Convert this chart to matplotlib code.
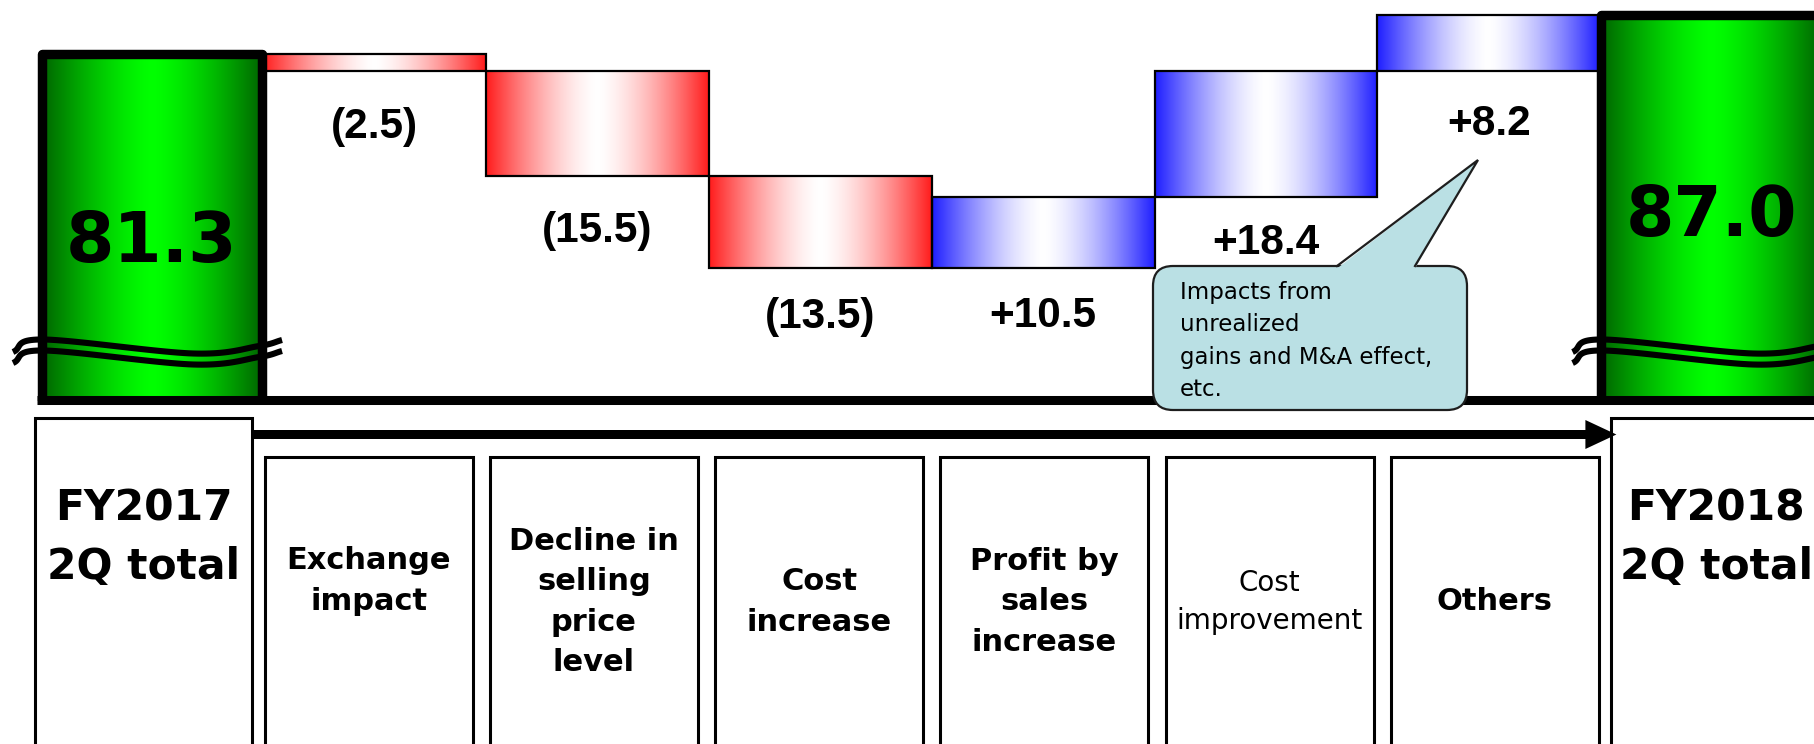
import numpy as np
import matplotlib
matplotlib.use("Agg")
import matplotlib.pyplot as plt
from matplotlib.patches import Rectangle, FancyBboxPatch, Polygon, FancyArrow

# ---------------- data ----------------
categories = ["FY2017\n2Q total", "Exchange\nimpact", "Decline in\nselling\nprice\nlevel",
              "Cost\nincrease", "Profit by\nsales\nincrease", "Cost\nimprovement",
              "Others", "FY2018\n2Q total"]
start_total = 81.3
end_total = 87.0
changes = [-2.5, -15.5, -13.5, 10.5, 18.4, 8.2]
note_text = "Impacts from\nunrealized\ngains and M&A effect,\netc."

# ---------------- layout ----------------
W, H = 1814, 744
fig = plt.figure(figsize=(W / 100, H / 100), dpi=100, facecolor="white")

BASE_PX = 400.5          # baseline height from the top, px
PITCH = 222.8            # px per category (waterfall)
X0 = 152.0               # px of first category centre
Y_TOP, Y_FLOOR = 89.156, 30.35
LABEL_DROP = [-56, -55, -49, -48, -46, -53]   # px below each step bar
TOTAL_SHIFT = [-15, -9]                        # px below bar middle

ax = fig.add_axes([0, 1 - BASE_PX / H, 1, BASE_PX / H], zorder=1)
ax.axis("off")

RED_EDGE, BLUE_EDGE = (255, 28, 28), (30, 30, 255)
WHITE = (255, 255, 255)
GREEN_EDGE, GREEN_MID = (0, 100, 0), (0, 255, 0)


def gradient_fill(axis, patch, edge_rgb, mid_rgb, power, z):
    x0, y0 = patch.get_x(), patch.get_y()
    w, h = patch.get_width(), patch.get_height()
    t = np.linspace(0, 1, 300)
    d = np.abs(2 * t - 1) ** power
    edge = np.array(edge_rgb) / 255.0
    mid = np.array(mid_rgb) / 255.0
    rgb = mid[None, :] * (1 - d[:, None]) + edge[None, :] * d[:, None]
    im = axis.imshow(rgb[None, :, :], extent=[x0, x0 + w, y0, y0 + h],
                     aspect="auto", interpolation="bilinear", origin="lower", zorder=z)
    im.set_clip_path(patch)


# change bars
levels = [start_total]
for c in changes:
    levels.append(levels[-1] + c)
bottoms = [min(a, b) for a, b in zip(levels[:-1], levels[1:])]
heights = [abs(c) for c in changes]
xs = np.arange(1, len(changes) + 1)
step_bars = ax.bar(xs, heights, bottom=bottoms, width=1.0, facecolor="none",
                   edgecolor="black", linewidth=1.6, zorder=3)
for c, p in zip(changes, step_bars.patches):
    gradient_fill(ax, p, RED_EDGE if c < 0 else BLUE_EDGE, WHITE, 1.5, 2)

# total bars
totals = [start_total, end_total]
total_x = [0, len(categories) - 1]
total_bars = ax.bar(total_x, [v - Y_FLOOR for v in totals], bottom=Y_FLOOR, width=0.99,
                    facecolor="none", edgecolor="black", linewidth=6.8, zorder=5)
for p in total_bars.patches:
    p.set_joinstyle("round")
    gradient_fill(ax, p, GREEN_EDGE, GREEN_MID, 1.4, 4)

# baseline
ax.plot([-0.495 - 4.75 / PITCH, (W - X0) / PITCH + 0.5], [Y_FLOOR, Y_FLOOR],
        color="black", lw=6.5, solid_capstyle="butt", clip_on=False, zorder=6)

# value labels for the changes
for x, b, c, drop in zip(xs, bottoms, changes, LABEL_DROP):
    txt = f"({abs(c):.1f})" if c < 0 else f"+{c:.1f}"
    ax.annotate(txt, xy=(x, b), xytext=(0, drop), textcoords="offset pixels",
                ha="center", va="center", fontsize=30.5, fontweight="bold",
                family="Liberation Sans", zorder=7)

# totals
for x, v, s in zip(total_x, totals, TOTAL_SHIFT):
    ax.annotate(f"{v:.1f}", xy=(x, (v + Y_FLOOR) / 2), xytext=(0, s),
                textcoords="offset pixels", ha="center", va="center",
                fontsize=50, fontweight="bold", family="DejaVu Sans", zorder=7)

ax.set_xlim(-X0 / PITCH, (W - X0) / PITCH)
ax.set_ylim(Y_FLOOR, Y_TOP)

# ---------------- overlay in pixel units ----------------
ov = fig.add_axes([0, 0, 1, 1], zorder=2)
ov.set_xlim(0, W)
ov.set_ylim(H, 0)
ov.axis("off")


def smooth_curve(pts, n=24):
    pts = np.asarray(pts, float)
    P = np.vstack([2 * pts[0] - pts[1], pts, 2 * pts[-1] - pts[-2]])
    t = np.linspace(0, 1, n, endpoint=False)[:, None]
    out = []
    for k in range(1, len(P) - 2):
        p0, p1, p2, p3 = P[k - 1], P[k], P[k + 1], P[k + 2]
        out.append(0.5 * (2 * p1 + (-p0 + p2) * t + (2 * p0 - 5 * p1 + 4 * p2 - p3) * t ** 2
                          + (-p0 + 3 * p1 - 3 * p2 + p3) * t ** 3))
    out.append(pts[-1][None, :])
    return np.vstack(out)


# break marks across the total bars
for p in total_bars.patches:
    (l_px, _), = ax.transData.transform([(p.get_x(), 0)])
    (r_px, _), = ax.transData.transform([(p.get_x() + p.get_width(), 0)])
    L, R = l_px - 4.75, r_px + 4.75
    w = R - L
    upper = [(L - 24, 352), (L + 6, 339.5), (L + 0.68 * w, 353.5), (R - 8, 346), (R + 15, 340)]
    for dy in (0, 11):
        curve = smooth_curve([(x, y + dy) for x, y in upper])
        ov.plot(curve[:, 0], curve[:, 1], color="black", lw=4.4, solid_capstyle="butt", zorder=3)

# category boxes
BOX_PITCH, BOX_X0 = 225.2, 143.5
for i, lab in enumerate(categories):
    cx = BOX_X0 + BOX_PITCH * i
    is_total = i in total_x
    bw = 217 if is_total else 208
    top = 418 if is_total else 457
    ov.add_patch(Rectangle((cx - bw / 2, top), bw, 400, facecolor="white",
                           edgecolor="black", lw=2.2, zorder=2))
    if is_total:
        tx = cx if i == 0 else min(cx, W - 98)
        ov.text(tx, 538, lab, ha="center", va="center", fontsize=30.5, fontweight="bold",
                family="DejaVu Sans", linespacing=1.5, zorder=4)
    else:
        regular = lab == "Cost\nimprovement"
        y = 581 if i == 1 else 602
        ov.text(cx, y, lab, ha="center", va="center",
                fontsize=20 if regular else 22, fontweight="normal" if regular else "bold",
                family="DejaVu Sans", linespacing=1.48, zorder=4)

# flow arrow
arrow_x0 = BOX_X0 + 217 / 2
arrow_x1 = BOX_X0 + BOX_PITCH * 7 - 217 / 2 + 5
ov.add_patch(FancyArrow(arrow_x0, 434.5, arrow_x1 - arrow_x0, 0,
                        width=9, head_width=29, head_length=31, length_includes_head=True,
                        facecolor="black", edgecolor="none", zorder=3))

# callout
CALLOUT_FC, CALLOUT_EC = "#BAE0E4", "#1e1e1e"
ov.add_patch(FancyBboxPatch((1153, 266), 314, 144, boxstyle="round,pad=0,rounding_size=20",
                            facecolor=CALLOUT_FC, edgecolor=CALLOUT_EC, lw=1.6, zorder=8))
ov.add_patch(Polygon([(1337, 268.5), (1478, 160), (1415, 268.5)], closed=True,
                     facecolor=CALLOUT_FC, edgecolor="none", zorder=9))
ov.plot([1337, 1478, 1415], [266, 160, 266], color=CALLOUT_EC, lw=1.6, zorder=9,
        solid_joinstyle="miter")
ov.text(1180, 281, note_text, ha="left", va="top", fontsize=16.5, family="DejaVu Sans",
        linespacing=1.52, zorder=10)

fig.savefig("out.png", dpi=100, facecolor="white")
